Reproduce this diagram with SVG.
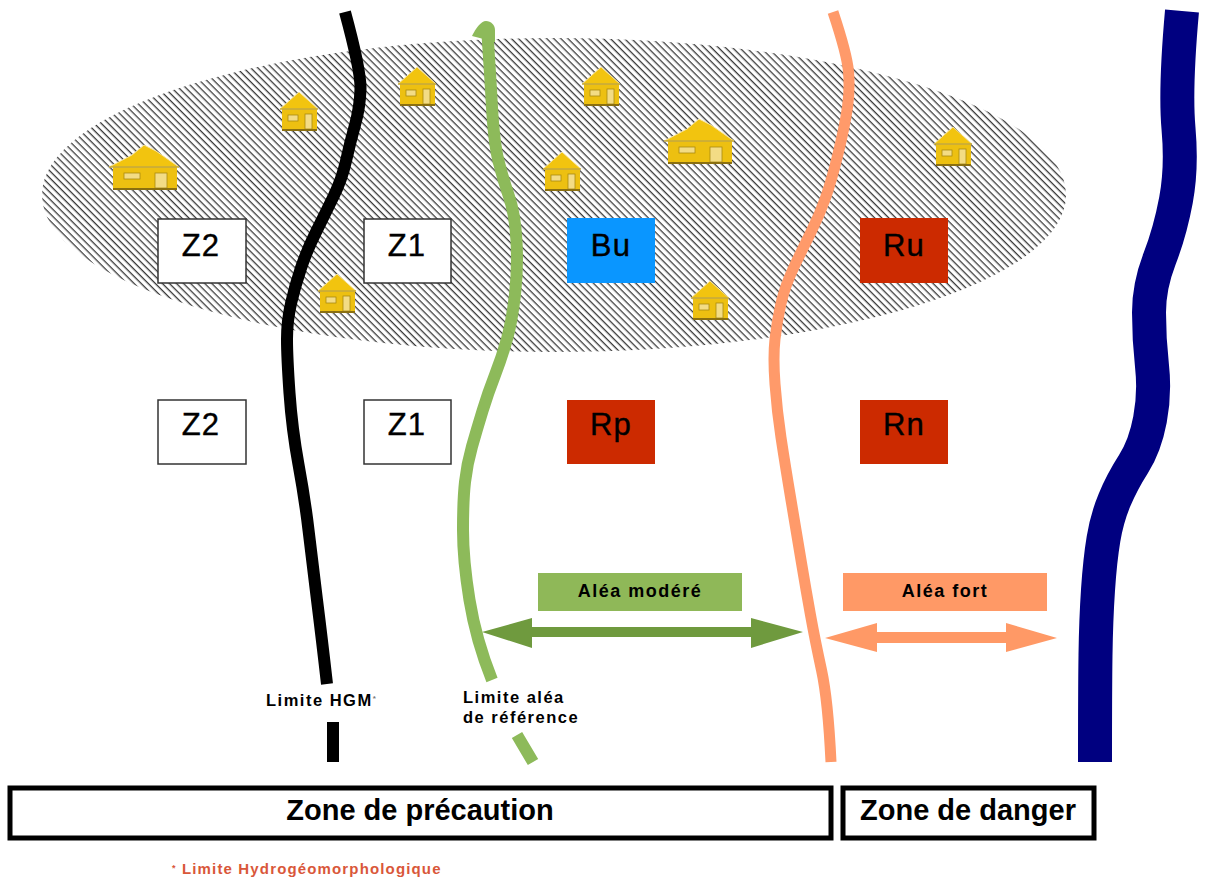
<svg xmlns="http://www.w3.org/2000/svg" width="1206" height="880" viewBox="0 0 1206 880">
<style>
text{font-family:"Liberation Sans",Arial,sans-serif;fill:#000}
.box{stroke-width:1.5}
.w{fill:#fff;stroke:#333}
.r{fill:#cc2a00}
.big{font-size:31px;text-anchor:middle;letter-spacing:1.2px;stroke:#000;stroke-width:.4px}
.lab{font-size:16.5px;font-weight:bold;letter-spacing:1.5px}
.zone{fill:#fff;stroke:#000;stroke-width:5}
.ztx{font-size:29px;font-weight:bold;text-anchor:middle}
.ale{font-size:18px;font-weight:bold;text-anchor:middle;letter-spacing:1.5px}
.line{fill:none}
</style>
<defs>
<pattern id="hatch" width="5" height="5" patternUnits="userSpaceOnUse" patternTransform="rotate(45)">
<rect width="5" height="5" fill="#fff"/><rect width="5" height="1.3" fill="#3a3a3a"/>
</pattern>
<g id="house">
<rect x="-17" y="17" width="35" height="21" fill="#edc011"/>
<path d="M-19 17L0 0L19 17Z" fill="#f2c40f" stroke="#f8e6a0" stroke-width="1"/>
<path d="M-19 17H19" stroke="#a98a10" stroke-width="1"/>
<rect x="-11" y="23" width="10" height="6" fill="#f3dc85" stroke="#a98a10" stroke-width=".8"/>
<rect x="6" y="22" width="7" height="15" fill="#f3dc85" stroke="#a98a10" stroke-width=".8"/>
<path d="M-17 38H18" stroke="#8a6f10" stroke-width="2"/>
</g>
<g id="bighouse">
<rect x="-31" y="22" width="64" height="22" fill="#edc011"/>
<path d="M-35 22L-12 10L0 0L12 6L35 22Z" fill="#f2c40f" stroke="#f8e6a0" stroke-width="1"/>
<path d="M-35 22H35" stroke="#a98a10" stroke-width="1"/>
<rect x="-20" y="28" width="16" height="6" fill="#f3dc85" stroke="#a98a10" stroke-width=".8"/>
<rect x="11" y="28" width="12" height="15" fill="#f3dc85" stroke="#a98a10" stroke-width=".8"/>
<path d="M-31 44H33" stroke="#8a6f10" stroke-width="2"/>
</g>
</defs>
<ellipse id="flood" cx="554" cy="195" rx="512" ry="157" fill="url(#hatch)"/>
<g id="connectors" class="line">
<path id="hgm" class="line" stroke="#000" stroke-width="12" d="M345 12Q361 71 360.5 89T355 125T346 161T333.5 196.5T316 232T301 268T291 303.5T287 339T289.5 393T298.5 464.5T308.5 530T317 600T327 684M333 722V762"/>
<path id="ref" class="line" stroke="#8dba5a" stroke-width="12" d="M487 27Q490 71 492 107T498.5 161T509 196.5T516.5 241T515 294.5T507 339T495 375T482.5 411T472 446.5T465 482T463 530T469.5 600T492 680M517 735L533 762"/>
<path id="ref-head" d="M472 36C476 28 481 21 486 21C491 21 495 25 495 30V42Z" fill="#8dba5a"/>
<path id="danger" class="line" stroke="#ff9a6a" stroke-width="11" d="M833 12Q847 54 848.5 71.5T847.5 107T838.5 152T826 196.5T811 232T793.5 268T781 303.5T775 339T775 384T781 437.5T791 500T801.5 563T810.5 615T821.5 670T831 762"/>
<path id="river" class="line" stroke="#000080" stroke-width="34" d="M1182 11Q1175 89 1178.5 128.5T1176 200T1159.5 259T1149 312.5T1152 366T1150 419.5T1133.5 464T1114.5 500T1103.5 539T1098 590T1095.5 655T1095 762"/>
</g>
<g id="houses">
<use href="#bighouse" x="144" y="145"/>
<use href="#house" x="299" y="92"/>
<use href="#house" x="417" y="67"/>
<use href="#house" x="601" y="67"/>
<use href="#house" x="562" y="152"/>
<use href="#bighouse" x="699" y="119"/>
<use href="#house" x="953" y="127"/>
<use href="#house" x="337" y="274"/>
<use href="#house" x="710" y="281"/>
</g>
<g id="z2a"><rect class="box w" x="158" y="219" width="88" height="64"/><text class="big" x="201" y="256">Z2</text></g>
<g id="z1a"><rect class="box w" x="364" y="219" width="87" height="64"/><text class="big" x="407" y="256">Z1</text></g>
<g id="bu"><rect x="567" y="218" width="88" height="65" fill="#0a96ff"/><text class="big" x="611" y="256">Bu</text></g>
<g id="ru"><rect class="r" x="860" y="218" width="88" height="65"/><text class="big" x="904" y="256">Ru</text></g>
<g id="z2b"><rect class="box w" x="158" y="400" width="88" height="64"/><text class="big" x="201" y="435">Z2</text></g>
<g id="z1b"><rect class="box w" x="364" y="400" width="87" height="64"/><text class="big" x="407" y="435">Z1</text></g>
<g id="rp"><rect class="r" x="567" y="400" width="88" height="64"/><text class="big" x="611" y="435">Rp</text></g>
<g id="rn"><rect class="r" x="860" y="400" width="88" height="64"/><text class="big" x="904" y="435">Rn</text></g>
<g id="alea-modere"><rect x="538" y="573" width="204" height="38" fill="#8fb858"/><text class="ale" x="640" y="597">Aléa modéré</text></g>
<g id="alea-fort"><rect x="843" y="573" width="204" height="38" fill="#ff9966"/><text class="ale" x="945" y="597">Aléa fort</text></g>
<path id="arrow-modere" fill="#6f9a3e" d="M482 632L532 618V627H751V618L803 632L751 648V637H532V648Z"/>
<path id="arrow-fort" fill="#ff9966" d="M825 638L877 623V632H1006V623L1057 638L1006 652V643H877V652Z"/>
<text id="lim-hgm" class="lab" x="266" y="706">Limite HGM<tspan font-size="8" dy="-5" fill="#777">*</tspan></text>
<g id="lim-ref"><text class="lab" x="463" y="703">Limite aléa</text><text class="lab" x="463" y="723">de référence</text></g>
<g id="zone-p"><rect class="zone" x="10" y="788" width="821" height="50"/><text class="ztx" x="420" y="820">Zone de précaution</text></g>
<g id="zone-d"><rect class="zone" x="843" y="788" width="251" height="50"/><text class="ztx" x="968" y="820">Zone de danger</text></g>
<text id="note" x="172" y="874" font-size="15" font-weight="bold" style="fill:#d9573a" letter-spacing="1.15"><tspan font-size="9" dy="-3">*</tspan><tspan dy="3"> Limite Hydrogéomorphologique</tspan></text>
</svg>
